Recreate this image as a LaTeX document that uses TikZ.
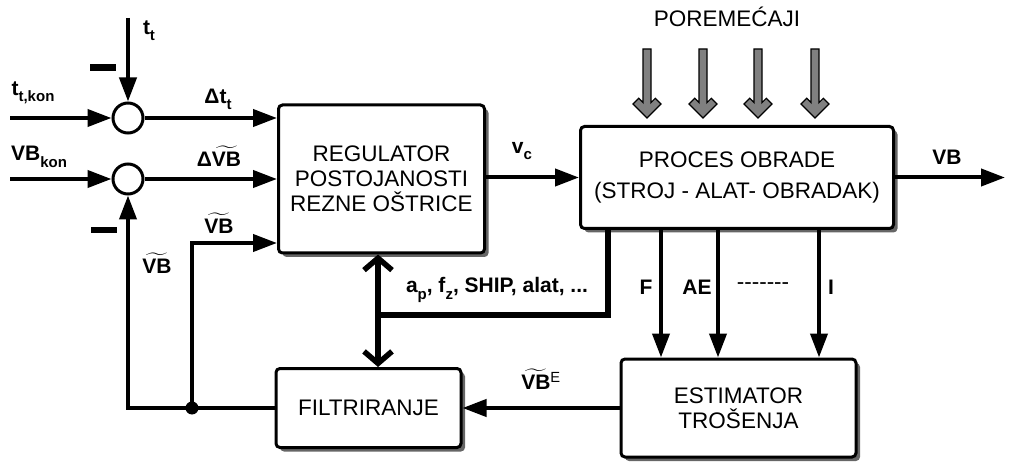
\documentclass[tikz,border=0pt]{standalone}
\usepackage{fontspec}
\usepackage{amsmath}
\setmainfont{Liberation Sans}
\usetikzlibrary{arrows.meta,shadows}
\newcommand{\ind}[1]{\raisebox{-0.3em}{\fontsize{15}{15}\selectfont #1}}
\newcommand{\vbt}{$\widetilde{\text{VB}}$}

\begin{document}
\begin{tikzpicture}[x=1pt, y=-1pt,
    >={Triangle[length=24pt,width=17pt]},
    blok/.style={draw, line width=3pt, rounded corners=4pt, fill=white, align=center,
      font=\fontsize{22.5}{25}\selectfont,
      general shadow={fill=black!60, shadow xshift=4pt, shadow yshift=-4pt}},
    sum/.style={draw, circle, line width=3pt, minimum size=30pt, inner sep=0pt, fill=white},
    veza/.style={line width=4pt, ->},
    debela/.style={line width=5.5pt},
    dvostr/.style={line width=5.5pt, {Straight Barb[length=12pt,width=28pt]}-{Straight Barb[length=12pt,width=28pt]}},
    lab/.style={font=\fontsize{21}{24}\selectfont\bfseries, inner sep=0pt},
    txt/.style={font=\fontsize{22.5}{25}\selectfont, inner sep=0pt},
    minus/.style={fill=black, minimum width=26pt, minimum height=6.5pt, inner sep=0pt}]
  \useasboundingbox (0,0) rectangle (1010,465);

  \node[blok, minimum width=206pt, minimum height=148pt] (reg) at (381.5,179) {REGULATOR\\POSTOJANOSTI\\REZNE OŠTRICE};
  \node[blok, minimum width=313pt, minimum height=102pt] (proc) at (737,177.5) {PROCES OBRADE\\[6pt](STROJ - ALAT- OBRADAK)};
  \node[blok, minimum width=185pt, minimum height=79pt] (filt) at (368.5,408) {FILTRIRANJE};
  \node[blok, minimum width=235pt, minimum height=98pt] (est) at (738.5,408) {ESTIMATOR\\TROŠENJA};
  \node[sum] (s1) at (128,118) {};
  \node[sum] (s2) at (128,179) {};

  \coordinate (tkon) at (10,118);
  \coordinate (vbkon) at (10,179);
  \coordinate (ttop) at (128,18);
  \coordinate (jn) at (192,408);
  \coordinate (vbout) at (1005,177.5);
  \coordinate (par) at (378,315);
  \path (reg.west) ++(0,64) coordinate (r3);

  \draw[veza] (tkon) -- (s1);
  \draw[veza] (ttop) -- (s1);
  \draw[veza] (vbkon) -- (s2);
  \draw[veza] (s1) -- (s1 -| reg.west);
  \draw[veza] (s2) -- (s2 -| reg.west);
  \draw[veza] (filt.west) -| (s2);
  \draw[veza] (jn) |- (r3);
  \fill (jn) circle (6.5pt);
  \draw[veza] (reg.east |- proc.west) -- (proc.west);
  \draw[veza] (proc.east) -- (vbout);
  \foreach \dx/\n in {-76/f, -19/ae, 82/i}
    \draw[veza] (proc.south) ++(\dx,0) coordinate (a\n) -- (a\n |- est.north);
  \draw[debela] (proc.south) ++(-129,0) coordinate (pd) -- (pd |- par) -- (par);
  \draw[dvostr] (par |- reg.south) -- (par |- filt.north);
  \draw[veza] (est.west) -- (filt.east);

  \foreach \x in {647,703,758,815}
    \draw[line width=1.2pt, fill=black!50] (\x,118) -- (\x-14,104) -- (\x-8.3,98.3) -- (\x-4,102.6)
      -- (\x-4,49) -- (\x+4,49) -- (\x+4,102.6) -- (\x+8.3,98.3) -- (\x+14,104) -- cycle;

  \node[lab] (ltkon) at (33,93) {t\ind{t,kon}};
  \node[lab] (ltt) at (149,31) {t\ind{t}};
  \node[minus] (m1) at (103,67.5) {};
  \node[minus] (m2) at (104,230) {};
  \node[lab] (lvbkon) at (39,157) {VB\ind{kon}};
  \node[lab] (ldt) at (218,99) {Δt\ind{t}};
  \node[lab] (ldvb) at (219,156) {Δ\vbt};
  \node[lab] (lvb1) at (219,223) {\vbt};
  \node[lab] (lvb2) at (157,263) {\vbt};
  \node[lab] (lvc) at (522,151) {v\ind{c}};
  \node[lab] (lvb) at (947,157) {VB};
  \node[txt] (lpor) at (727,17) {POREMEĆAJI};
  \node[lab] (lf) at (646,287) {F};
  \node[lab] (lae) at (697,287) {AE};
  \node[txt] (ldash) at (763,286) {-{}-{}-{}-{}-{}-{}-};
  \node[lab] (li) at (831,287) {I};
  \node[lab] (lpar) at (497,290) {a\ind{p}, f\ind{z}, SHIP, alat, ...};
  \node[lab] (lvbe) at (541,379) {\vbt\textsuperscript{\mdseries E}};
\end{tikzpicture}
\end{document}
